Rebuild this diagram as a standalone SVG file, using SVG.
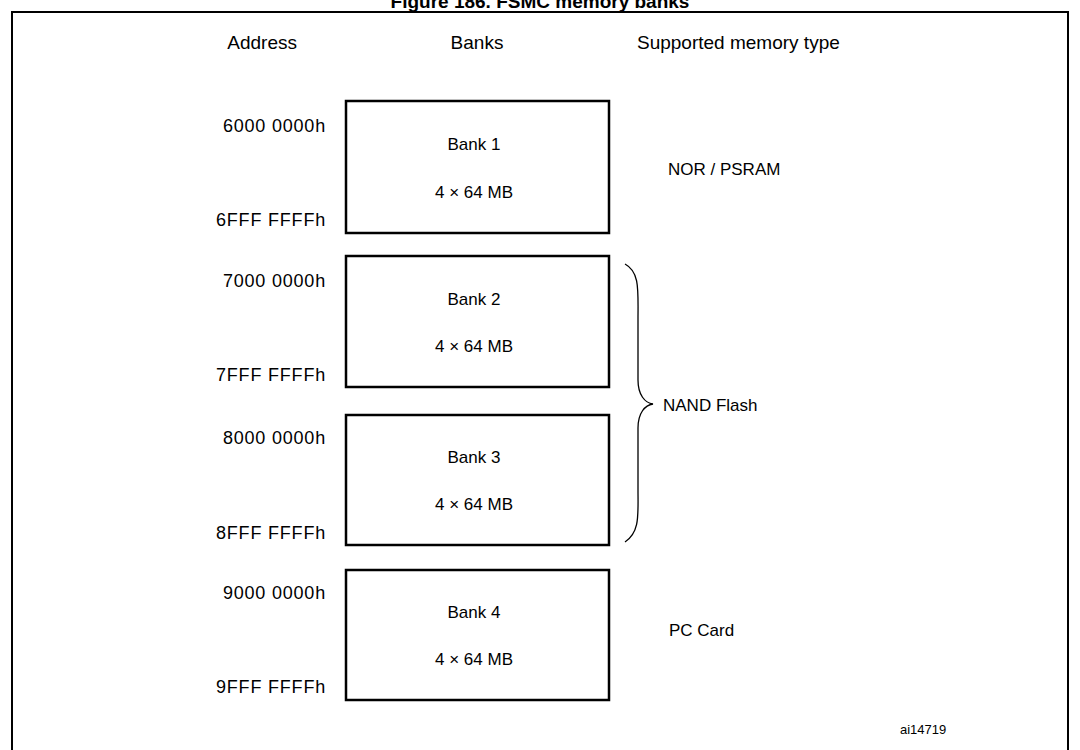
<svg xmlns="http://www.w3.org/2000/svg" width="1080" height="750" viewBox="0 0 1080 750">
<style>
text{font-family:"Liberation Sans",Arial,sans-serif;fill:#000}
.h{font-size:19px}.a{font-size:18px;text-anchor:end;letter-spacing:0.8px}.b{font-size:17px;text-anchor:middle}.t{font-size:17px}
.box{fill:#fff;stroke:#000;stroke-width:2.5}
</style>
<rect width="1080" height="750" fill="#fff"/>
<text x="540" y="8" style="font-size:19px;font-weight:bold" text-anchor="middle">Figure 186. FSMC memory banks</text>
<path d="M12,752 V12 H1068 V752" fill="none" stroke="#000" stroke-width="2"/>
<text class="h" x="297" y="49" text-anchor="end">Address</text>
<text class="h" x="477" y="49" text-anchor="middle">Banks</text>
<text class="h" x="637" y="49">Supported memory type</text>
<g id="bank1"><rect class="box" x="346" y="101" width="263" height="132"/><text class="b" x="474" y="150">Bank 1</text><text class="b" x="474" y="198">4 × 64 MB</text></g>
<g id="bank2"><rect class="box" x="346" y="256" width="263" height="131"/><text class="b" x="474" y="305">Bank 2</text><text class="b" x="474" y="352">4 × 64 MB</text></g>
<g id="bank3"><rect class="box" x="346" y="415" width="263" height="130"/><text class="b" x="474" y="463">Bank 3</text><text class="b" x="474" y="510">4 × 64 MB</text></g>
<g id="bank4"><rect class="box" x="346" y="570" width="263" height="130"/><text class="b" x="474" y="618">Bank 4</text><text class="b" x="474" y="665">4 × 64 MB</text></g>
<g id="addresses">
<text class="a" x="326" y="132">6000 0000h</text><text class="a" x="326" y="226">6FFF FFFFh</text>
<text class="a" x="326" y="287">7000 0000h</text><text class="a" x="326" y="381">7FFF FFFFh</text>
<text class="a" x="326" y="444">8000 0000h</text><text class="a" x="326" y="539">8FFF FFFFh</text>
<text class="a" x="326" y="599">9000 0000h</text><text class="a" x="326" y="693">9FFF FFFFh</text>
</g>
<g id="connectors"><path d="M625,264 C640,272 638,290 638,320 V380 C638,395 645,403 653,404 C645,405 638,413 638,428 V490 C638,515 640,532 625,542" fill="none" stroke="#000" stroke-width="1.3"/></g>
<g id="types">
<text class="t" x="668" y="175">NOR / PSRAM</text>
<text class="t" x="663" y="411">NAND Flash</text>
<text class="t" x="669" y="636">PC Card</text>
</g>
<text x="900" y="734" style="font-size:13px">ai14719</text>
</svg>
